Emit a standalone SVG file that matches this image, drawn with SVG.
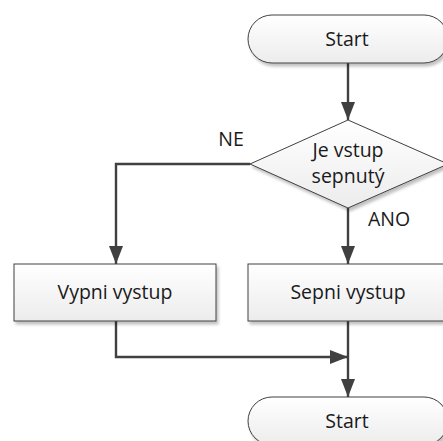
<svg xmlns="http://www.w3.org/2000/svg" width="443" height="441" viewBox="0 0 443 441">
<defs>
<linearGradient id="g" x1="0" y1="0" x2="0" y2="1">
<stop offset="0" stop-color="#ffffff"/>
<stop offset="1" stop-color="#ececec"/>
</linearGradient>
<filter id="sh" x="-10%" y="-10%" width="130%" height="140%">
<feGaussianBlur in="SourceAlpha" stdDeviation="1.5"/>
<feOffset dx="2" dy="3" result="b"/>
<feComponentTransfer><feFuncA type="linear" slope="0.25"/></feComponentTransfer>
<feMerge><feMergeNode/><feMergeNode in="SourceGraphic"/></feMerge>
</filter>
<marker id="a" viewBox="0 0 18 14" refX="18" refY="7" markerWidth="18" markerHeight="14" markerUnits="userSpaceOnUse" orient="auto">
<path d="M0,0 L18,7 L0,14 z" fill="#404040"/>
</marker>
</defs>
<style>
.s{fill:url(#g);stroke:#404040;stroke-width:1;filter:url(#sh)}
.t{font-family:"Open Sans",sans-serif;font-size:19.5px;fill:#1a1a1a;text-anchor:middle}
.c{fill:none;stroke:#404040;stroke-width:2.4}
</style>
<rect width="443" height="441" fill="#ffffff"/>
<g id="connectors">
<path class="c" d="M348,63 V120" marker-end="url(#a)"/>
<path class="c" d="M250,164 H116 V264" marker-end="url(#a)"/>
<path class="c" d="M348,208 V264" marker-end="url(#a)"/>
<path class="c" d="M116,321 V357 H348" marker-end="url(#a)"/>
<path class="c" d="M348,321 V397" marker-end="url(#a)"/>
</g>
<g id="start1">
<rect class="s" x="248" y="15" width="200" height="48" rx="24"/>
<text class="t" x="347" y="46">Start</text>
</g>
<g id="decision">
<polygon class="s" points="348,120 448,164 348,208 250,164"/>
<text class="t" x="348" y="157">Je vstup</text>
<text class="t" x="348" y="183">sepnutý</text>
</g>
<g id="vypni">
<rect class="s" x="14" y="264" width="202" height="57"/>
<text class="t" x="115" y="299">Vypni vystup</text>
</g>
<g id="sepni">
<rect class="s" x="248" y="264" width="200" height="57"/>
<text class="t" x="348" y="299">Sepni vystup</text>
</g>
<g id="start2">
<rect class="s" x="248" y="397" width="200" height="48" rx="24"/>
<text class="t" x="347" y="428">Start</text>
</g>
<g id="labels">
<text class="t" x="231" y="146">NE</text>
<text class="t" x="389" y="226">ANO</text>
</g>
</svg>
